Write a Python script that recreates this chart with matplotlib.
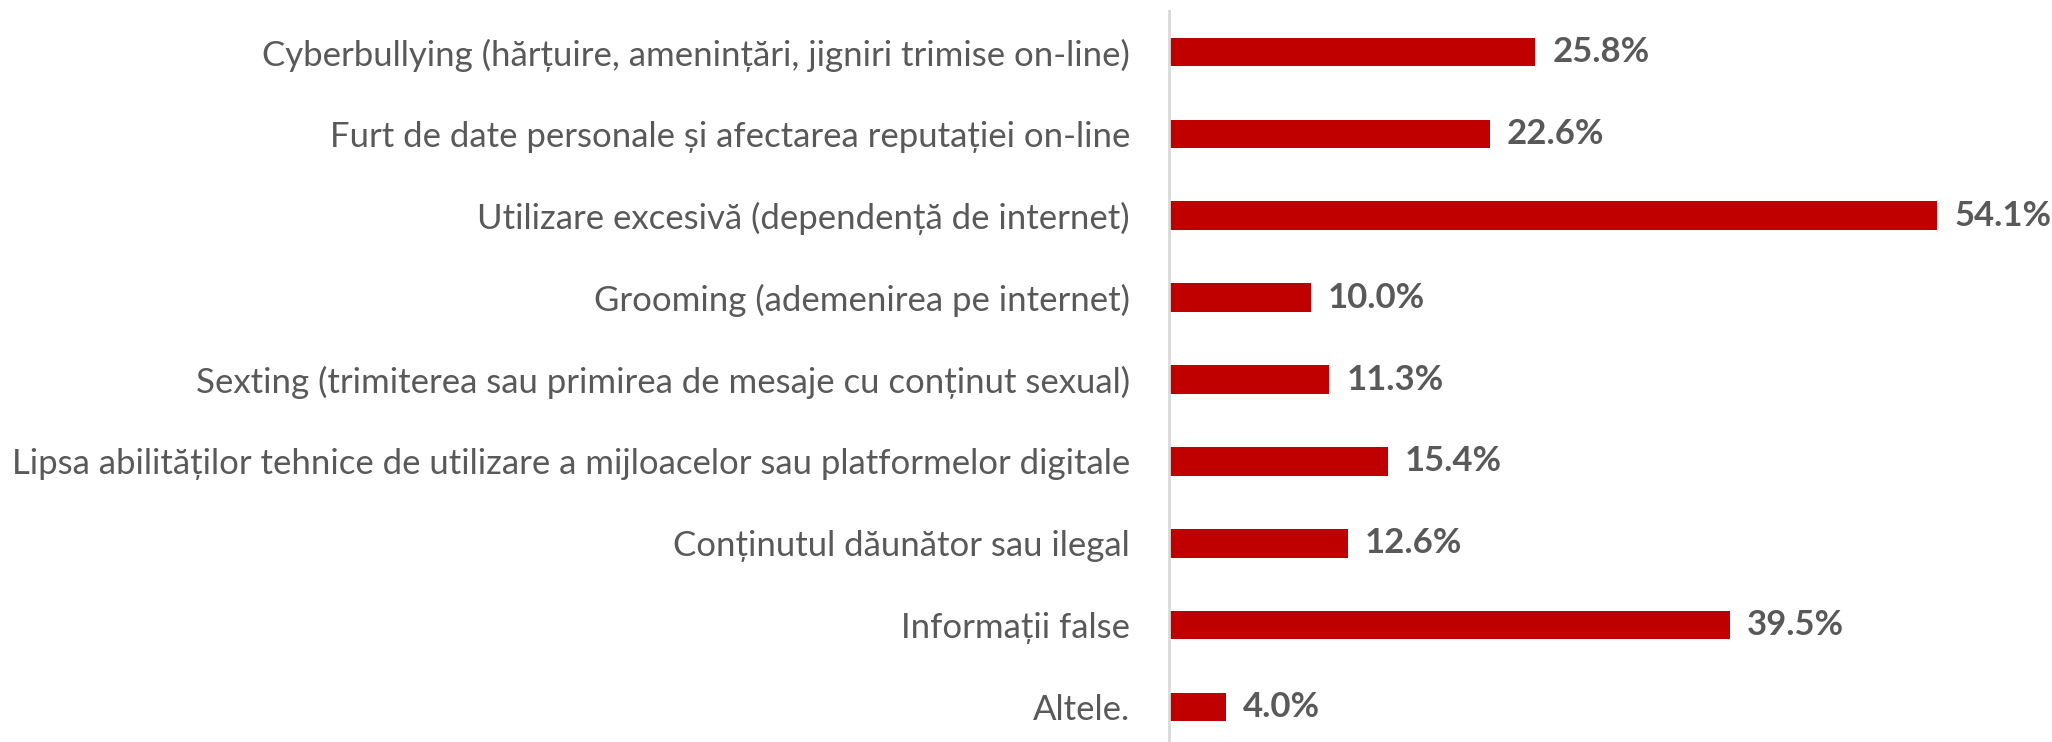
import matplotlib
matplotlib.use('Agg')
import matplotlib.pyplot as plt

categories = [
    'Cyberbullying (hărțuire, amenințări, jigniri trimise on-line)',
    'Furt de date personale și afectarea reputației on-line',
    'Utilizare excesivă (dependență de internet)',
    'Grooming (ademenirea pe internet)',
    'Sexting (trimiterea sau primirea de mesaje cu conținut sexual)',
    'Lipsa abilităților tehnice de utilizare a mijloacelor sau platformelor digitale',
    'Conținutul dăunător sau ilegal',
    'Informații false',
    'Altele.',
]
values = [25.8, 22.6, 54.1, 10.0, 11.3, 15.4, 12.6, 39.5, 4.0]

plt.rcParams['font.family'] = ['Lato', 'DejaVu Sans']

fig = plt.figure(figsize=(20.52, 7.42), dpi=100)
ax = fig.add_axes([1169/2052, -6/742, 1 - 1169/2052, 1 - 5/742])

pos = list(range(len(categories)))
ax.barh(pos, values, height=0.35, color='#C00000')
ax.set_ylim(len(categories) - 0.5, -0.5)
ax.set_xlim(0, 62.2)

for p, v in zip(pos, values):
    ax.text(v + 1.2, p, f'{v:.1f}%', va='center', ha='left',
            fontsize=25, fontweight='bold', color='#595959')

ax.set_yticks(pos)
ax.set_yticklabels(categories, fontsize=25, color='#595959')
ax.tick_params(axis='y', length=0, pad=28)
ax.set_xticks([])
for s in ['top', 'right', 'bottom']:
    ax.spines[s].set_visible(False)
ax.spines['left'].set_color('#D9D9D9')
ax.spines['left'].set_linewidth(2)

fig.savefig('out.png', dpi=100)
